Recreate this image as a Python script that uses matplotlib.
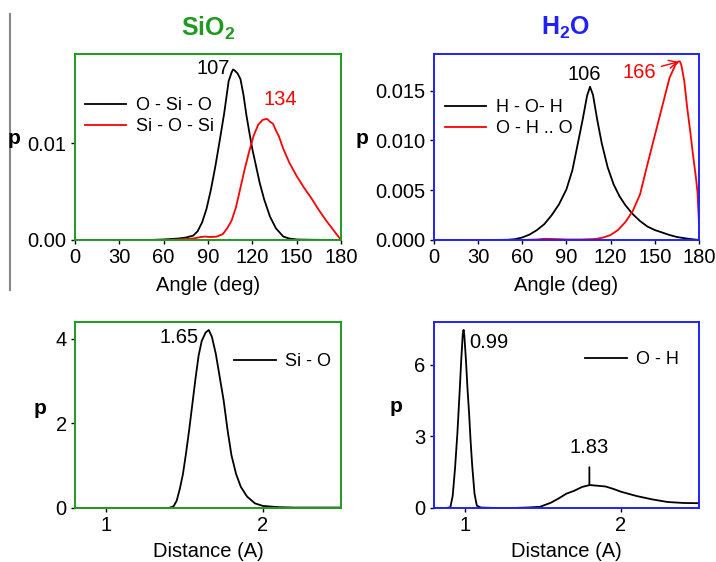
import matplotlib
matplotlib.use('Agg')
import matplotlib.pyplot as plt
from matplotlib.lines import Line2D

plt.rcParams['font.family'] = ['Liberation Sans', 'DejaVu Sans']
plt.rcParams['mathtext.fontset'] = 'custom'
plt.rcParams['mathtext.rm'] = 'Liberation Sans'
plt.rcParams['mathtext.bf'] = 'Liberation Sans:bold'

green = '#1f9a1f'
blue = '#2020ff'

# --- SiO2 angles ---
osio_deg = [0, 50, 60, 65, 70, 75, 80, 83, 86, 89, 92, 95, 98, 101, 104, 106, 107,
            108, 110, 112, 114, 116, 118, 120, 122, 125, 128, 132, 136, 141, 145,
            150, 160, 180]
osio_p = [0, 0, 0.05, 0.1, 0.15, 0.25, 0.45, 0.9, 1.8, 3.2, 5.2, 7.6, 10.3, 13.1,
          16.4, 17.3, 17.6, 17.5, 17.2, 16.6, 15.0, 12.9, 11.1, 9.4, 8.0, 5.9, 4.2,
          2.4, 1.2, 0.35, 0.15, 0.05, 0.02, 0]
siosi_deg = [0, 60, 70, 80, 85, 88, 92, 96, 100, 103, 106, 109, 112, 115, 118, 121,
             124, 127, 130, 132, 134, 136, 138, 141, 145, 150, 155, 160, 165, 170,
             175, 178, 180]
siosi_p = [0, 0, 0.05, 0.15, 0.3, 0.35, 0.3, 0.35, 0.6, 1.2, 2.0, 3.4, 5.4, 7.4, 9.2,
           10.8, 11.9, 12.4, 12.5, 12.2, 12.0, 11.3, 10.7, 9.4, 8.0, 6.6, 5.4, 4.3,
           3.1, 2.0, 1.0, 0.4, 0]

# --- H2O angles ---
hoh_deg = [0, 40, 50, 55, 60, 65, 70, 75, 80, 85, 90, 94, 98, 101, 104, 106, 108,
           111, 114, 118, 122, 126, 130, 135, 140, 145, 150, 155, 160, 165, 170,
           175, 180]
hoh_p = [0, 0, 0.02, 0.08, 0.25, 0.55, 1.0, 1.6, 2.5, 3.6, 5.1, 7.0, 9.9, 12.1,
         14.5, 15.4, 14.6, 12.0, 9.7, 7.3, 5.6, 4.4, 3.5, 2.6, 1.9, 1.35, 1.0, 0.75,
         0.5, 0.3, 0.18, 0.08, 0]
ohho_deg = [0, 60, 70, 75, 80, 85, 90, 100, 110, 115, 120, 125, 130, 135, 140, 145,
            150, 155, 160, 164, 166, 167, 168, 170, 172, 174, 176, 178, 179, 180]
ohho_p = [0, 0, 0.05, 0.12, 0.1, 0.08, 0.05, 0.05, 0.1, 0.25, 0.5, 1.0, 1.8, 2.9,
          4.6, 7.6, 10.5, 13.4, 16.3, 17.6, 17.95, 17.95, 17.6, 16.0, 13.3, 11.0,
          8.5, 6.2, 4.8, 1.7]

# --- distances ---
sio_r = [0.8, 1.2, 1.4, 1.43, 1.45, 1.47, 1.49, 1.51, 1.53, 1.55, 1.57, 1.59, 1.61,
         1.635, 1.655, 1.675, 1.70, 1.725, 1.75, 1.775, 1.80, 1.83, 1.86, 1.90,
         1.95, 2.0, 2.1, 2.2, 2.5]
sio_p = [0, 0, 0, 0.04, 0.17, 0.45, 0.8, 1.3, 1.85, 2.45, 3.05, 3.6, 3.95, 4.15,
         4.21, 4.05, 3.65, 3.1, 2.55, 1.85, 1.25, 0.8, 0.5, 0.27, 0.11, 0.05, 0.02,
         0.01, 0.01]
oh_r = [0.8, 0.88, 0.905, 0.92, 0.935, 0.95, 0.965, 0.975, 0.985, 0.99, 0.995,
        1.005, 1.015, 1.025, 1.035, 1.045, 1.06, 1.075, 1.10, 1.2, 1.3, 1.4, 1.48,
        1.55, 1.6, 1.65, 1.7, 1.75, 1.8, 1.85, 1.9, 1.95, 2.0, 2.1, 2.2, 2.3, 2.4,
        2.5]
oh_p = [0, 0, 0.03, 0.5, 1.65, 3.1, 4.9, 6.2, 7.3, 7.45, 7.2, 6.2, 5.0, 4.0, 2.8,
        1.8, 0.6, 0.1, 0.02, 0, 0, 0.02, 0.05, 0.22, 0.40, 0.6, 0.72, 0.88, 0.96,
        0.93, 0.9, 0.8, 0.68, 0.5, 0.36, 0.25, 0.21, 0.2]

fig = plt.figure(figsize=(7.16, 5.62), dpi=100)
ax_tl = fig.add_axes([0.1047, 0.5730, 0.3715, 0.3310])
ax_tr = fig.add_axes([0.6061, 0.5730, 0.3701, 0.3310])
ax_bl = fig.add_axes([0.1047, 0.0961, 0.3715, 0.3310])
ax_br = fig.add_axes([0.6061, 0.0961, 0.3701, 0.3310])

fs = 14.5
for a, col in [(ax_tl, green), (ax_bl, green), (ax_tr, blue), (ax_br, blue)]:
    for s in a.spines.values():
        s.set_color(col)
        s.set_linewidth(1.4)
    a.tick_params(direction='out', length=3, width=1, labelsize=fs, pad=3,
                  colors='black')
    a.tick_params(axis='both', which='both', top=False, right=False)

ax_tl.plot(osio_deg, [v * 1e-3 for v in osio_p], color='black', lw=1.3, label='O - Si - O')
ax_tl.plot(siosi_deg, [v * 1e-3 for v in siosi_p], color='red', lw=1.3, label='Si - O - Si')
ax_tl.set(xlim=(0, 180), ylim=(0, 0.0192), xticks=range(0, 181, 30), yticks=[0, 0.01])
ax_tl.set_yticklabels(['0.00', '0.01'])

ax_tr.plot(hoh_deg, [v * 1e-3 for v in hoh_p], color='black', lw=1.3, label='H - O- H')
ax_tr.plot(ohho_deg, [v * 1e-3 for v in ohho_p], color='red', lw=1.3, label='O - H .. O')
ax_tr.set(xlim=(0, 180), ylim=(0, 0.0187), xticks=range(0, 181, 30),
          yticks=[0, 0.005, 0.010, 0.015])
ax_tr.set_yticklabels(['0.000', '0.005', '0.010', '0.015'])

ax_bl.plot(sio_r, sio_p, color='black', lw=1.3, label='Si - O')
ax_bl.set(xlim=(0.8, 2.5), ylim=(0, 4.4), xticks=[1, 2], yticks=[0, 2, 4])

ax_br.plot(oh_r, oh_p, color='black', lw=1.3, label='O - H')
ax_br.set(xlim=(0.8, 2.5), ylim=(0, 7.78), xticks=[1, 2], yticks=[0, 3, 6])

leg_kw = dict(loc='center left', frameon=False, fontsize=13, handlelength=2.3,
              handletextpad=0.55, labelspacing=0.22, borderpad=0, borderaxespad=0)
ax_tl.legend(bbox_to_anchor=(0.037, 0.667), **leg_kw)
ax_tr.legend(bbox_to_anchor=(0.041, 0.656), **leg_kw)
ax_bl.legend(bbox_to_anchor=(0.598, 0.785), **leg_kw)
ax_br.legend(bbox_to_anchor=(0.570, 0.796), **leg_kw)

for a in (ax_tl, ax_tr):
    a.set_xlabel('Angle (deg)', fontsize=fs, labelpad=6)
for a in (ax_bl, ax_br):
    a.set_xlabel('Distance (A)', fontsize=fs, labelpad=5)

# peak labels
ax_tl.text(93.5, 0.0177, '107', fontsize=fs, ha='center', va='center')
ax_tl.text(138.7, 0.0145, '134', fontsize=fs, color='red', ha='center', va='center')
ax_tr.text(101.9, 0.01666, '106', fontsize=fs, ha='center', va='center')
ax_tr.annotate('166', xy=(167, 0.01795), xytext=(139.3, 0.01686), fontsize=fs,
               color='red', ha='center', va='center',
               arrowprops=dict(arrowstyle='->', color='red', lw=1, shrinkA=2, shrinkB=1))
ax_bl.text(1.465, 4.04, '1.65', fontsize=fs, ha='center', va='center')
ax_br.text(1.153, 6.92, '0.99', fontsize=fs, ha='center', va='center')
ax_br.annotate('1.83', xy=(1.797, 0.98), xytext=(1.797, 2.51), fontsize=fs,
               ha='center', va='center',
               arrowprops=dict(arrowstyle='-', color='black', lw=1.3, shrinkA=5, shrinkB=0))

# bold "p" labels
pfs = 15
fig.text(14 / 716, 1 - 138 / 562, 'p', fontsize=pfs, fontweight='bold', ha='center', va='center')
fig.text(362 / 716, 1 - 138 / 562, 'p', fontsize=pfs, fontweight='bold', ha='center', va='center')
fig.text(40 / 716, 1 - 408 / 562, 'p', fontsize=pfs, fontweight='bold', ha='center', va='center')
fig.text(396 / 716, 1 - 407 / 562, 'p', fontsize=pfs, fontweight='bold', ha='center', va='center')

# column titles
fig.text(208 / 716, 1 - 28 / 562, r'$\mathbf{SiO_2}$', fontsize=18, color=green,
         ha='center', va='center')
fig.text(566 / 716, 1 - 28 / 562, r'$\mathbf{H_2O}$', fontsize=18, color=blue,
         ha='center', va='center')

# gray rule on the left edge
fig.add_artist(Line2D([10 / 716, 10 / 716], [1 - 14 / 562, 1 - 290 / 562],
                      color='#888888', lw=1.5, transform=fig.transFigure))

plt.savefig('out.png', dpi=100)
